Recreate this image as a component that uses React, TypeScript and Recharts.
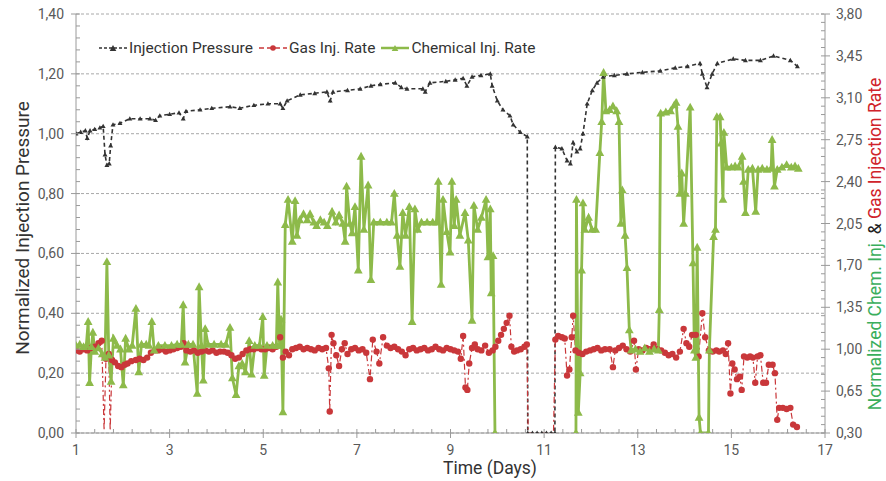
import React from 'react';
import {LineChart, Line, XAxis, YAxis, CartesianGrid, Label} from 'recharts';

// [day, normalized injection pressure] - left axis
const pressure: [number, number][] = [
     [1.0, 1.0], [1.1, 1.005], [1.2, 1.01], [1.24, 0.985], [1.3, 1.01], [1.4, 1.015],
     [1.51, 1.02], [1.58, 1.025], [1.62, 0.93], [1.66, 0.895], [1.71, 0.9], [1.74, 0.96],
     [1.79, 1.03], [1.94, 1.035], [2.15, 1.05], [2.37, 1.05], [2.58, 1.05], [2.7, 1.045],
     [2.79, 1.06], [3.0, 1.065], [3.2, 1.07], [3.29, 1.05], [3.35, 1.075], [3.65, 1.08],
     [3.9, 1.085], [4.29, 1.09], [4.5, 1.085], [4.8, 1.095], [5.1, 1.1], [5.36, 1.1],
     [5.42, 1.085], [5.51, 1.11], [5.79, 1.13], [6.1, 1.135], [6.36, 1.14], [6.43, 1.11],
     [6.49, 1.14], [6.8, 1.145], [7.07, 1.15], [7.3, 1.16], [7.5, 1.165], [7.82, 1.17],
     [7.95, 1.155], [8.07, 1.15], [8.41, 1.15], [8.46, 1.14], [8.56, 1.17], [8.9, 1.175],
     [9.1, 1.18], [9.27, 1.185], [9.35, 1.16], [9.46, 1.19], [9.65, 1.195], [9.85, 1.2],
     [9.89, 1.16], [10.0, 1.11], [10.12, 1.08], [10.27, 1.06], [10.34, 1.03], [10.49, 1.005],
     [10.64, 0.99], [10.65, 0], [10.75, 0], [10.85, 0], [10.95, 0], [11.05, 0], [11.15, 0],
     [11.23, 0], [11.24, 0.955], [11.38, 0.95], [11.49, 0.91], [11.56, 0.9], [11.62, 0.97],
     [11.7, 0.94], [11.77, 0.95], [11.83, 1.0], [11.92, 1.1], [12.03, 1.145], [12.13, 1.17],
     [12.26, 1.19], [12.5, 1.195], [12.77, 1.2], [13.1, 1.205], [13.48, 1.21], [13.8, 1.22],
     [14.06, 1.225], [14.33, 1.235], [14.38, 1.2], [14.48, 1.155], [14.59, 1.2], [14.7, 1.235],
     [15.04, 1.25], [15.3, 1.245], [15.62, 1.245], [15.9, 1.26], [16.26, 1.245], [16.41, 1.225],
];

// [day, normalized gas injection rate] - right axis
const gasRate: [number, number][] = [
     [1.0, 0.99], [1.08, 0.98], [1.16, 1.0], [1.24, 0.99], [1.32, 1.01], [1.4, 1.02],
     [1.48, 1.05], [1.55, 1.07], [1.6, 0.32], [1.64, 0.92], [1.7, 0.96], [1.73, 0.32],
     [1.77, 0.91], [1.83, 0.89], [1.9, 0.86], [1.97, 0.85], [2.04, 0.87], [2.1, 0.88],
     [2.18, 0.9], [2.28, 0.91], [2.36, 0.92], [2.44, 0.91], [2.52, 0.93], [2.6, 0.97],
     [2.68, 0.99], [2.76, 0.99], [2.84, 1.0], [2.92, 0.98], [3.0, 0.99], [3.08, 1.0],
     [3.16, 1.01], [3.24, 1.02], [3.3, 1.05], [3.36, 0.99], [3.44, 0.98], [3.52, 0.99],
     [3.6, 0.97], [3.68, 0.98], [3.76, 0.99], [3.84, 0.98], [3.92, 0.99], [4.0, 0.97],
     [4.08, 0.98], [4.16, 0.98], [4.24, 0.97], [4.32, 0.95], [4.4, 0.92], [4.48, 0.93],
     [4.56, 0.96], [4.64, 0.99], [4.72, 1.0], [4.8, 1.0], [4.88, 1.01], [4.96, 1.0],
     [5.04, 1.0], [5.12, 1.01], [5.2, 1.0], [5.28, 1.02], [5.36, 1.1], [5.42, 0.93],
     [5.48, 0.98], [5.55, 0.95], [5.62, 1.0], [5.7, 1.01], [5.78, 1.02], [5.86, 1.0],
     [5.94, 1.01], [6.02, 1.0], [6.1, 0.99], [6.18, 1.01], [6.26, 1.0], [6.34, 1.01],
     [6.4, 0.84], [6.42, 0.48], [6.46, 1.12], [6.5, 1.05], [6.56, 0.95], [6.62, 0.86],
     [6.68, 1.0], [6.74, 1.05], [6.8, 0.96], [6.88, 1.0], [6.96, 1.01], [7.04, 0.99],
     [7.12, 1.0], [7.2, 0.97], [7.28, 0.75], [7.34, 1.08], [7.42, 0.98], [7.48, 0.88],
     [7.56, 1.1], [7.64, 1.03], [7.72, 1.01], [7.8, 1.02], [7.88, 1.0], [7.96, 0.98],
     [8.04, 0.95], [8.12, 1.0], [8.2, 1.01], [8.28, 0.99], [8.36, 1.0], [8.44, 1.01],
     [8.52, 0.99], [8.6, 1.0], [8.68, 1.02], [8.76, 1.0], [8.84, 0.99], [8.92, 1.01],
     [9.0, 1.0], [9.08, 0.99], [9.16, 0.98], [9.22, 0.92], [9.27, 1.11], [9.32, 0.68],
     [9.36, 0.66], [9.4, 0.88], [9.46, 1.01], [9.52, 1.04], [9.58, 1.0], [9.66, 0.99],
     [9.74, 1.03], [9.82, 0.97], [9.9, 0.99], [9.96, 1.02], [10.02, 1.07], [10.08, 1.12],
     [10.14, 1.17], [10.2, 1.22], [10.26, 1.28], [10.3, 1.02], [10.36, 0.98], [10.42, 0.99],
     [10.5, 1.0], [10.58, 1.02], [10.63, 1.04], [10.66, 0.3], [11.2, 0.3], [11.24, 1.08],
     [11.3, 1.11], [11.38, 1.1], [11.44, 1.09], [11.49, 0.78], [11.54, 0.83], [11.59, 1.1],
     [11.62, 1.28], [11.67, 0.99], [11.74, 0.97], [11.82, 0.96], [11.9, 0.98], [11.98, 0.99],
     [12.06, 1.0], [12.14, 1.01], [12.22, 0.99], [12.3, 1.0], [12.4, 1.0], [12.47, 0.85],
     [12.52, 0.99], [12.6, 1.01], [12.68, 1.03], [12.76, 1.0], [12.84, 0.98], [12.92, 1.07],
     [12.96, 0.83], [13.02, 1.0], [13.1, 0.99], [13.18, 1.01], [13.26, 1.0], [13.34, 1.04],
     [13.42, 1.0], [13.5, 0.99], [13.58, 0.97], [13.66, 0.95], [13.74, 0.96], [13.82, 0.93],
     [13.9, 0.98], [13.98, 1.17], [14.04, 1.05], [14.1, 1.02], [14.16, 1.12], [14.24, 1.12],
     [14.3, 0.94], [14.38, 1.3], [14.44, 1.1], [14.52, 0.99], [14.6, 0.98], [14.68, 0.99],
     [14.74, 0.98], [14.82, 0.99], [14.88, 0.96], [14.93, 1.05], [14.98, 0.63], [15.02, 0.88],
     [15.07, 0.83], [15.12, 0.75], [15.18, 0.77], [15.22, 0.66], [15.27, 0.94], [15.34, 0.93],
     [15.4, 0.94], [15.46, 0.93], [15.51, 0.72], [15.56, 0.94], [15.62, 0.95], [15.68, 0.72],
     [15.74, 0.72], [15.8, 0.87], [15.88, 0.87], [15.93, 0.8], [15.98, 0.41], [16.02, 0.51],
     [16.1, 0.51], [16.18, 0.5], [16.26, 0.51], [16.32, 0.37], [16.4, 0.35],
];

// [day, normalized chemical injection rate] - right axis, null = no data
const chemRate: [number, number | null][] = [
     [1.0, 1.03], [1.08, 1.04], [1.16, 1.02], [1.22, 1.03], [1.26, 1.23], [1.29, 0.72],
     [1.33, 1.02], [1.36, 1.14], [1.4, 0.98], [1.48, 1.01], [1.56, 0.96], [1.62, 0.93],
     [1.66, 1.73], [1.7, 0.95], [1.75, 0.73], [1.8, 1.09], [1.88, 1.03], [1.95, 1.0],
     [2.01, 0.7], [2.06, 1.09], [2.13, 1.0], [2.2, 1.03], [2.28, 1.34], [2.34, 0.81],
     [2.4, 1.04], [2.5, 1.04], [2.56, 1.03], [2.62, 1.23], [2.67, 0.99], [2.76, 1.03],
     [2.9, 1.03], [3.04, 1.03], [3.16, 1.04], [3.25, 1.04], [3.29, 1.37], [3.33, 0.89],
     [3.4, 1.04], [3.5, 1.04], [3.59, 0.63], [3.63, 1.52], [3.68, 1.03], [3.72, 0.74],
     [3.76, 1.17], [3.82, 1.04], [3.95, 1.04], [4.1, 1.04], [4.2, 1.04], [4.29, 1.18],
     [4.34, 0.76], [4.42, 0.62], [4.48, 0.86], [4.55, 0.88], [4.62, 0.81], [4.7, 1.07],
     [4.75, 0.79], [4.82, 1.03], [4.92, 1.03], [4.99, 1.27], [5.02, 0.78], [5.08, 1.03],
     [5.2, 1.03], [5.28, 1.03], [5.31, 1.56], [5.35, 1.03], [5.38, 1.25], [5.42, 0.475],
     [5.47, 2.04], [5.53, 2.25], [5.62, 1.9], [5.68, 2.24], [5.72, 1.95], [5.78, 2.08],
     [5.86, 2.13], [5.94, 2.08], [6.0, 2.13], [6.08, 2.06], [6.14, 2.03], [6.22, 2.08],
     [6.3, 2.06], [6.37, 2.03], [6.47, 2.15], [6.55, 2.06], [6.62, 2.12], [6.7, 2.05],
     [6.75, 1.9], [6.78, 2.36], [6.85, 2.05], [6.9, 1.97], [6.96, 2.19], [7.03, 1.66],
     [7.09, 2.61], [7.15, 2.0], [7.24, 2.37], [7.3, 1.58], [7.36, 2.06], [7.5, 2.06],
     [7.64, 2.06], [7.74, 2.06], [7.8, 2.3], [7.86, 1.95], [7.92, 1.69], [7.98, 2.14],
     [8.04, 1.95], [8.12, 2.19], [8.18, 1.23], [8.24, 2.17], [8.3, 2.0], [8.38, 2.06],
     [8.5, 2.06], [8.62, 2.06], [8.7, 2.06], [8.74, 2.4], [8.8, 1.54], [8.84, 2.25],
     [8.92, 1.98], [8.99, 1.81], [9.03, 2.4], [9.08, 2.03], [9.12, 2.25], [9.2, 1.95],
     [9.31, 2.14], [9.38, 1.91], [9.46, 1.24], [9.5, 2.2], [9.58, 2.0], [9.66, 2.1],
     [9.76, 2.25], [9.8, 1.77], [9.85, 2.17], [9.87, 1.47], [9.91, 1.78], [9.95, 0.3],
     [10.8, null],
     [11.68, 0.3], [11.69, 2.25], [11.73, 0.47], [11.77, 0.8], [11.8, 1.66], [11.83, 2.22],
     [11.87, 2.0], [11.95, 2.1], [12.02, 2.0], [12.1, 2.0], [12.19, 2.64], [12.23, 2.9],
     [12.27, 3.31], [12.32, 2.99], [12.4, 3.0], [12.47, 3.03], [12.55, 2.99], [12.6, 2.9],
     [12.64, 2.05], [12.67, 2.33], [12.73, 1.95], [12.77, 1.68], [12.82, 1.16], [12.86, 0.99],
     [12.95, 1.0], [13.05, 0.98], [13.15, 1.01], [13.25, 0.98], [13.35, 1.0], [13.44, 0.99],
     [13.46, 1.33], [13.49, 2.97], [13.6, 2.98], [13.7, 2.99], [13.78, 3.04], [13.82, 3.06],
     [13.86, 2.86], [13.9, 2.3], [13.94, 2.47], [13.98, 2.05], [14.02, 2.3], [14.12, 3.02],
     [14.18, 1.72], [14.21, 0.99], [14.24, 0.93], [14.27, 1.85], [14.31, 0.43], [14.34, 0.3],
     [14.51, 0.3], [14.53, 0.99], [14.62, 1.94], [14.66, 2.0], [14.69, 2.94], [14.76, 2.94],
     [14.78, 2.72], [14.82, 2.25], [14.84, 2.81], [14.9, 2.52], [15.0, 2.52], [15.08, 2.53],
     [15.15, 2.52], [15.23, 2.61], [15.26, 2.4], [15.3, 2.14], [15.36, 2.5], [15.45, 2.51],
     [15.52, 2.15], [15.57, 2.5], [15.66, 2.51], [15.76, 2.5], [15.85, 2.51], [15.87, 2.75],
     [15.92, 2.36], [15.98, 2.5], [16.08, 2.52], [16.18, 2.54], [16.28, 2.52], [16.36, 2.53],
     [16.43, 2.51],
];

const xMajor = [1, 3, 5, 7, 9, 11, 13, 15, 17];
const leftMajor = [0, 0.2, 0.4, 0.6, 0.8, 1.0, 1.2, 1.4];
const rightMajor = [0.3, 0.65, 1.0, 1.35, 1.7, 2.05, 2.4, 2.75, 3.1, 3.45, 3.8];

// five minor steps between every pair of major ticks
const withMinors = (major: number[]) => {
     const out: number[] = [];
     major.forEach((v, i) => {
          out.push(v);
          if (i < major.length - 1) {
               const step = (major[i + 1] - v) / 5;
               for (let k = 1; k < 5; k++) out.push(+(v + k * step).toFixed(4));
          }
     });
     return out;
};

const isMajor = (v: number, major: number[]) => major.some((m) => Math.abs(m - v) < 1e-6);
const fmt = (v: number) => v.toFixed(2).replace('.', ',');

const AXIS = '#9a9a9a';
const TICK_TEXT = '#595959';
const PRESSURE = '#333333';
const GAS = '#c9373a';
const CHEM = '#8dba4a';

const XTick = (props: any) => {
     const {x, y, payload} = props;
     const major = isMajor(payload.value, xMajor);
     return (
          <g>
               <line x1={x} x2={x} y1={y - 4} y2={major ? y + 5 : y} stroke={AXIS} />
               {major && (
                    <text x={x} y={y + 22} textAnchor="middle" fill={TICK_TEXT} fontSize={14}>
                         {payload.value}
                    </text>
               )}
          </g>
     );
};

const LeftTick = (props: any) => {
     const {x, y, payload} = props;
     const major = isMajor(payload.value, leftMajor);
     return (
          <g>
               <line x1={major ? x - 5 : x} x2={x + 4} y1={y} y2={y} stroke={AXIS} />
               {major && (
                    <text x={x - 12} y={y} textAnchor="end" dominantBaseline="central" fill={TICK_TEXT} fontSize={14}>
                         {fmt(payload.value)}
                    </text>
               )}
          </g>
     );
};

const RightTick = (props: any) => {
     const {x, y, payload} = props;
     const major = isMajor(payload.value, rightMajor);
     return (
          <g>
               <line x1={x - 4} x2={major ? x + 5 : x} y1={y} y2={y} stroke={AXIS} />
               {major && (
                    <text x={x + 11} y={y} textAnchor="start" dominantBaseline="central" fill={TICK_TEXT} fontSize={14}>
                         {fmt(payload.value)}
                    </text>
               )}
          </g>
     );
};

const triangle = (cx: number, cy: number, r: number) =>
     `M${cx},${cy - r} L${cx + r * 0.95},${cy + r * 0.7} L${cx - r * 0.95},${cy + r * 0.7} Z`;

const PressureDot = (props: any) => {
     const {cx, cy, index} = props;
     if (cx == null || cy == null) return <g key={`pd-${index}`} />;
     return <path key={`pd-${index}`} d={triangle(cx, cy, 2.6)} fill={PRESSURE} />;
};

const GasDot = (props: any) => {
     const {cx, cy, index, payload} = props;
     if (cx == null || cy == null || payload.y < 0.33) return <g key={`gd-${index}`} />;
     return <circle key={`gd-${index}`} cx={cx} cy={cy} r={3.2} fill={GAS} />;
};

const ChemDot = (props: any) => {
     const {cx, cy, index} = props;
     if (cx == null || cy == null) return <g key={`cd-${index}`} />;
     return <path key={`cd-${index}`} d={triangle(cx, cy, 4.6)} fill={CHEM} />;
};

const pressureData = pressure.map(([x, y]) => ({x, y}));
const gasData = gasRate.map(([x, y]) => ({x, y}));
const chemData = chemRate.map(([x, y]) => ({x, y}));

const LegendItem = ({color, dash, marker, text}: {color: string; dash?: string; marker: 'tri' | 'dot'; text: string}) => (
     <span style={{display: 'inline-flex', alignItems: 'center', marginRight: 5}}>
          <svg width={30} height={12}>
               <line x1={1} x2={29} y1={6} y2={6} stroke={color} strokeWidth={marker === 'tri' && !dash ? 2.5 : 1.5} strokeDasharray={dash} />
               {marker === 'tri' ? <path d={triangle(15, 6.5, 3.5)} fill={color} /> : <circle cx={15} cy={6} r={2.8} fill={color} />}
          </svg>
          <span style={{marginLeft: 1}}>{text}</span>
     </span>
);

export default function App() {
     return (
          <div style={{position: 'absolute', top: 0, left: 0, width: 886, height: 481, background: '#fff', fontFamily: 'Roboto, sans-serif'}}>
               <LineChart width={886} height={481} margin={{top: 14, right: 11, bottom: 18, left: 16}}>
                    <CartesianGrid yAxisId="left" vertical={false} horizontalValues={leftMajor} stroke="#a8a8a8" strokeDasharray="3 2" />
                    <XAxis
                         type="number"
                         dataKey="x"
                         domain={[1, 17]}
                         ticks={withMinors(xMajor)}
                         interval={0}
                         allowDataOverflow
                         height={30}
                         tickSize={0}
                         tickMargin={0}
                         tickLine={false}
                         axisLine={{stroke: AXIS}}
                         tick={<XTick />}
                    >
                         <Label
                              content={() => (
                                   <text x={490} y={468} textAnchor="middle" dominantBaseline="central" fill="#333" fontSize={17.5}>
                                        Time (Days)
                                   </text>
                              )}
                         />
                    </XAxis>
                    <YAxis
                         yAxisId="left"
                         type="number"
                         domain={[0, 1.4]}
                         ticks={withMinors(leftMajor)}
                         interval={0}
                         allowDataOverflow
                         width={60}
                         tickSize={0}
                         tickMargin={0}
                         tickLine={false}
                         axisLine={{stroke: AXIS}}
                         tick={<LeftTick />}
                    >
                         <Label
                              content={() => (
                                   <text x={22} y={228} transform="rotate(-90 22 228)" textAnchor="middle" dominantBaseline="central" fill="#333" fontSize={19}>
                                        Normalized Injection Pressure
                                   </text>
                              )}
                         />
                    </YAxis>
                    <YAxis
                         yAxisId="right"
                         orientation="right"
                         type="number"
                         domain={[0.3, 3.8]}
                         ticks={withMinors(rightMajor)}
                         interval={0}
                         allowDataOverflow
                         width={50}
                         tickSize={0}
                         tickMargin={0}
                         tickLine={false}
                         axisLine={{stroke: AXIS}}
                         tick={<RightTick />}
                    >
                         <Label
                              content={() => (
                                   <text x={875} y={244} transform="rotate(-90 875 244)" textAnchor="middle" dominantBaseline="central" fontSize={17.5}>
                                        <tspan fill="#3aae5c">Normalized Chem. Inj.</tspan>
                                        <tspan fill="#222"> &amp; </tspan>
                                        <tspan fill="#d0232b">Gas Injection Rate</tspan>
                                   </text>
                              )}
                         />
                    </YAxis>
                    <Line
                         yAxisId="left"
                         data={pressureData}
                         dataKey="y"
                         stroke={PRESSURE}
                         strokeWidth={1.6}
                         strokeDasharray="4 3"
                         dot={PressureDot}
                         activeDot={false}
                         isAnimationActive={false}
                    />
                    <Line
                         yAxisId="right"
                         data={gasData}
                         dataKey="y"
                         stroke={GAS}
                         strokeWidth={1.2}
                         strokeDasharray="6 3 2 3"
                         dot={GasDot}
                         activeDot={false}
                         isAnimationActive={false}
                    />
                    <Line
                         yAxisId="right"
                         data={chemData}
                         dataKey="y"
                         stroke={CHEM}
                         strokeWidth={2.8}
                         dot={ChemDot}
                         activeDot={false}
                         connectNulls={false}
                         isAnimationActive={false}
                    />
               </LineChart>
               <div style={{position: 'absolute', top: 39, left: 98, fontSize: 15.5, color: '#333', display: 'flex', alignItems: 'center', whiteSpace: 'nowrap'}}>
                    <LegendItem color={PRESSURE} dash="3 2" marker="tri" text="Injection Pressure" />
                    <LegendItem color={GAS} dash="5 3" marker="dot" text="Gas Inj. Rate" />
                    <LegendItem color={CHEM} marker="tri" text="Chemical Inj. Rate" />
               </div>
          </div>
     );
}
